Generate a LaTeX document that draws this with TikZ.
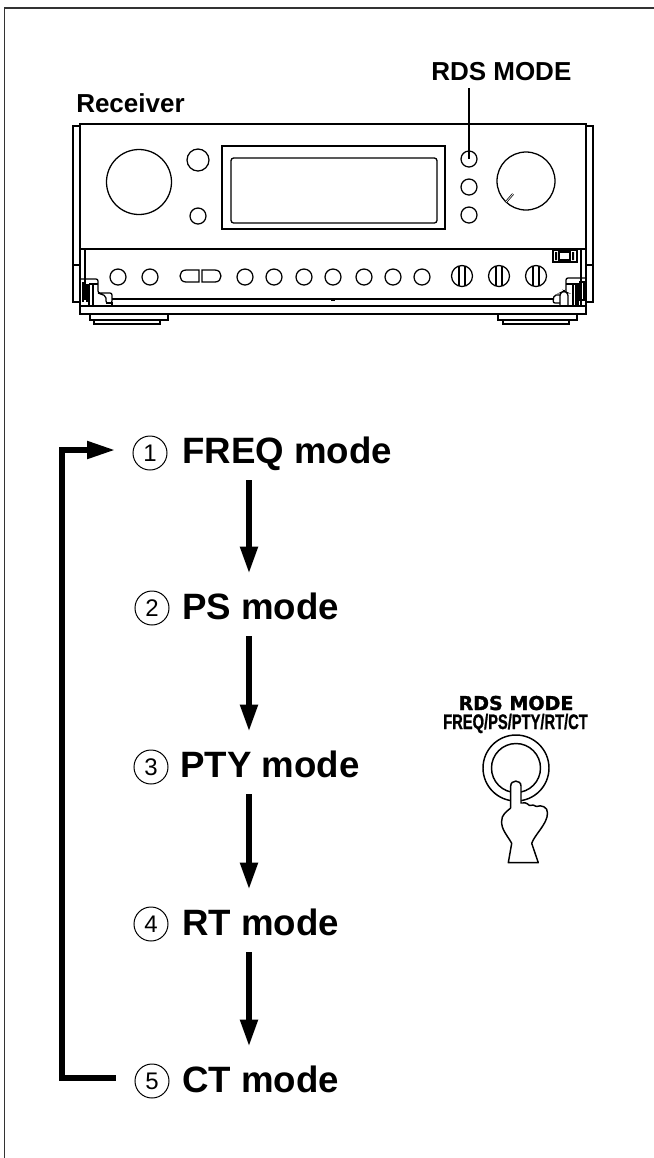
\documentclass[tikz,border=0pt]{standalone}
\usepackage{fontspec}
\setmainfont{Liberation Sans}
\newfontfamily\panelfont[BoldFeatures={FakeBold=1.6}]{DejaVu Sans}
\newfontfamily\subfont[BoldFeatures={FakeBold=1.2}]{Liberation Sans}
\usetikzlibrary{arrows.meta,calc}
\begin{document}
\begin{tikzpicture}[x=0.75pt,y=-0.75pt,
  bodyline/.style={draw=black, line width=1.7pt},
  panelline/.style={draw=black, line width=0.95pt},
  label/.style={inner sep=0pt, anchor=base west, font=\fontsize{19.5pt}{22pt}\selectfont\bfseries},
  modelabel/.style={inner sep=0pt, anchor=base west, text height=33pt, text depth=12.75pt,
    font=\fontsize{27.5pt}{30pt}\selectfont\bfseries},
  numcircle/.style={draw=black, line width=0.75pt, circle, inner sep=0pt, minimum size=25.5pt,
    font=\fontsize{18pt}{20pt}\selectfont},
  flowarrow/.style={-{Triangle[length=21pt,width=12pt]}, line width=5.2pt, draw=black},
  looparrow/.style={-{Triangle[length=22pt,width=12pt]}, line width=5.2pt, draw=black, line join=miter},
  smallbutton/.style={draw=black, line width=0.95pt, circle, inner sep=0pt, minimum size=12pt}
]
\useasboundingbox (0,0) rectangle (654,1158);
% page frame
\draw[draw=black!80, line width=0.9pt] (4.5,1158) -- (4.5,8) -- (654,8);
% receiver
\draw[bodyline] (80,124) rectangle (586,314);
\draw[bodyline] (80,126) -- (73,126) -- (73,302) -- (80,302);
\draw[bodyline] (586,126) -- (593,126) -- (593,302) -- (586,302);
\draw[panelline] (73,265) -- (80,265) (586,265) -- (593,265);
\draw[panelline] (80,249) -- (586,249);
\draw[panelline] (85,249) -- (85,300) (581,249) -- (581,306);
\draw[panelline] (80,306) -- (586,306);
\draw[draw=black, line width=1.5pt] (112,299) -- (554,299);
\fill (331,299) rectangle (335,301);
\draw[panelline] (139,182) circle (32.5);
\draw[panelline] (198,160) circle (11);
\draw[panelline] (198,216) circle (8);
\draw[panelline] (222,146) rectangle (445,229);
\draw[panelline, rounded corners=2pt] (231,158) rectangle (437,223);
\node[smallbutton] (rdsbutton) at (469,159) {};
\draw[panelline] (469,187) circle (8) (469,215) circle (8);
\draw[panelline] (526,181) circle (29);
\draw[draw=black, line width=1.6pt] (506,202) -- (513,194);
\draw[draw=white, line width=0.5pt] (506,202) -- (513,194);
\foreach \xpos in {118,150,245,274,304,333,364,393,422}
  \draw[panelline] (\xpos,277) circle (8);
\draw[panelline] (199,270) -- (186,270) .. controls (178,270) and (178,282) .. (186,282) -- (199,282) -- cycle;
\draw[panelline] (202,270) -- (215,270) .. controls (223,270) and (223,282) .. (215,282) -- (202,282) -- cycle;
\foreach \xpos in {462,499,536}{
  \draw[panelline] (\xpos,276) circle (10.5);
  \draw[panelline] (\xpos-3,266) -- (\xpos-3,286) (\xpos+3,266) -- (\xpos+3,286);
}
% slide switch
\draw[panelline, line width=1.2pt] (553,250) rectangle (577,262);
\draw[panelline] (559,252) rectangle (570,260);
\fill (555,252) rectangle (557,260) (572,252) rectangle (574,260);
% left corner
\draw[panelline, rounded corners=1.5pt] (81,279) -- (98,279) -- (98,293) -- (112,293) -- (112,303) -- (106,303) -- (106,296) -- (98,293);
\draw[panelline] (89,284) -- (89,305) (93,284) -- (93,305) (89,284) -- (98,284);
\draw[panelline, line width=1.4pt] (83,282) -- (83,302) (87,284) -- (87,302);
\draw[panelline] (106,303) -- (112,303) -- (112,306);
% right corner
\draw[panelline, rounded corners=1.5pt] (566,292) -- (566,278) -- (585,278);
\draw[panelline] (573,284) -- (573,305) (576,284) -- (576,305) (566,284) -- (578,284) -- (578,306);
\draw[panelline] (580,282) rectangle (584,300);
\draw[panelline, rounded corners=1.5pt] (560,295) -- (554,295) -- (553,303) -- (560,303);
\draw[panelline, rounded corners=2pt] (560,306) -- (560,293) -- (564,291) -- (568,293) -- (568,306);
% feet
\draw[bodyline] (90,314) -- (90,320) -- (168,320) -- (168,314);
\draw[bodyline] (94,320) -- (94,324) -- (160,324) -- (160,320);
\draw[bodyline] (498,314) -- (498,320) -- (577,320) -- (577,314);
\draw[bodyline] (503,320) -- (503,324) -- (569,324) -- (569,320);
% labels
\node[label] (receiver) at (76,112) {Receiver};
\node[label, text depth=6pt] (rdslabel) at (431,80) {RDS MODE};
\draw[draw=black, line width=1.9pt] (rdslabel.south -| rdsbutton) -- (rdsbutton.center);
% mode list
\node[modelabel] (freqmode) at (182,463) {FREQ mode};
\node[modelabel] (psmode) at (182,619) {PS mode};
\node[modelabel] (ptymode) at (180,777) {PTY mode};
\node[modelabel] (rtmode) at (182,935) {RT mode};
\node[modelabel] (ctmode) at (182,1092) {CT mode};
\node[numcircle] (numone) at (150,453) {1};
\node[numcircle] (numtwo) at (152,608) {2};
\node[numcircle] (numthree) at (151,767) {3};
\node[numcircle] (numfour) at (151,924) {4};
\node[numcircle] (numfive) at (152,1081) {5};
\coordinate (flowaxis) at (249,0);
\coordinate (loopaxis) at (62,0);
\draw[flowarrow] (freqmode.south -| flowaxis) -- (psmode.north -| flowaxis);
\draw[flowarrow] (psmode.south -| flowaxis) -- (ptymode.north -| flowaxis);
\draw[flowarrow] (ptymode.south -| flowaxis) -- (rtmode.north -| flowaxis);
\draw[flowarrow] (rtmode.south -| flowaxis) -- (ctmode.north -| flowaxis);
\draw[looparrow, shorten <=14.25pt, shorten >=12pt]
  ([yshift=2.25pt]numfive.west) -- ([yshift=2.25pt]numfive.west -| loopaxis)
  -- ([yshift=2.25pt]numone.west -| loopaxis) -- ([yshift=2.25pt]numone.west);
% push button
\node[inner sep=0pt, anchor=base, font=\panelfont\bfseries\fontsize{14.3pt}{16pt}\selectfont] (btntitle) at (516,710) {RDS MODE};
\node[inner sep=0pt, anchor=base, font=\subfont\bfseries\fontsize{15.75pt}{18pt}\selectfont] (btnsub) at (515.5,729) {\scalebox{0.7}[1]{FREQ/PS/PTY/RT/CT}};
\draw[panelline, line width=1.1pt] (516,768) circle (33) (516,768) circle (24.5);
\draw[draw=black, line width=1.1pt, fill=white, line join=round]
  (510.7,808) -- (510.7,786) .. controls (510.7,779.5) and (521,779.5) .. (521,786)
  -- (521,803) .. controls (524,802) and (527,803) .. (529.5,805.5)
  .. controls (532,804.5) and (534.5,805) .. (536.5,806.5)
  .. controls (541,804.5) and (548,807) .. (547.5,813)
  .. controls (547.5,824) and (535,834) .. (531.7,843.3)
  -- (538.3,862.7) -- (508.3,862.7) -- (511.7,843.3)
  .. controls (507,835) and (501,829) .. (501.7,821)
  .. controls (501.5,815) and (506,812) .. (510.7,808);
\end{tikzpicture}
\end{document}
